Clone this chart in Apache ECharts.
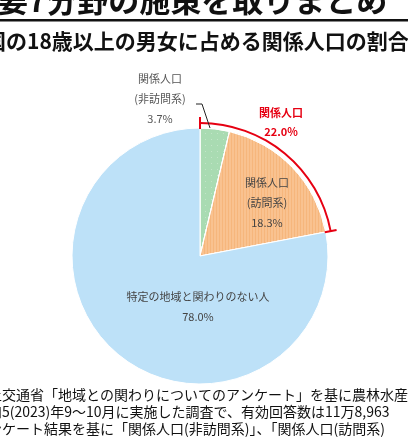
<!DOCTYPE html><html><head><meta charset="utf-8"><script src="https://cdn.jsdelivr.net/npm/echarts@6/dist/echarts.min.js"></script>
<style>html,body{margin:0;background:#fff}#c{width:408px;height:445px}</style></head><body><div id="c"></div><script>
const categories=['関係人口(非訪問系)','関係人口(訪問系)','特定の地域と関わりのない人'];
const values=[3.7,18.3,78.0];
const related=22.0;
const chart=echarts.init(document.getElementById('c'));
const cx=200,cy=256,R=128,RB=133;
const f='"Noto Sans CJK JP"';
function pt(frac,r){const a=Math.PI/2-frac*2*Math.PI;return [cx+r*Math.cos(a),cy-r*Math.sin(a)];}
const endF=related/100;
const t1a=pt(0,RB-6),t1b=pt(0,RB+6),t2a=pt(endF,RB-6),t2b=pt(endF,RB+6);
const colors=['#a9dbb2','#f9c290','#bde1f8'];
const decals=[{symbol:'circle',symbolSize:0.3,color:'rgba(255,255,255,0.6)',dashArrayX:3,dashArrayY:3},
{symbol:'rect',symbolSize:1,color:'rgba(240,160,90,0.35)',dashArrayX:[[1,2]],dashArrayY:[4,0]},null];
chart.setOption({animation:false,
graphic:[
{type:'text',z:100,left:-34,top:-15,style:{text:'主要7分野の施策を取りまとめ',font:'bold 31px '+f,fill:'#111'}},
{type:'rect',z:100,shape:{x:0,y:19,width:408,height:2.5},style:{fill:'#111'}},
{type:'text',z:100,left:-15,top:31,style:{text:'国の18歳以上の男女に占める関係人口の割合',font:'bold 21px '+f,fill:'#111'}},
{type:'text',z:100,x:160,y:69,style:{text:'関係人口\n(非訪問系)\n3.7%',font:'11px '+f,fill:'#555',align:'center',lineHeight:20}},
{type:'polyline',z:100,shape:{points:[[196,104],[202,104],[210,128]]},style:{stroke:'#222',lineWidth:1,fill:null}},
{type:'text',z:100,x:281,y:103,style:{text:'関係人口\n22.0%',font:'bold 11px '+f,fill:'#e60012',align:'center',lineHeight:19}},
{type:'line',z:100,shape:{x1:t1a[0],y1:t1a[1],x2:t1b[0],y2:t1b[1]},style:{stroke:'#e60012',lineWidth:2}},
{type:'line',z:100,shape:{x1:t2a[0],y1:t2a[1],x2:t2b[0],y2:t2b[1]},style:{stroke:'#e60012',lineWidth:2}},
{type:'text',z:100,x:267,y:173,style:{text:'関係人口\n(訪問系)\n18.3%',font:'11px '+f,fill:'#444',align:'center',lineHeight:20}},
{type:'text',z:100,x:198,y:287,style:{text:'特定の地域と関わりのない人\n78.0%',font:'11px '+f,fill:'#444',align:'center',lineHeight:20}},
{type:'text',z:100,x:-26,y:386,style:{text:'国土交通省「地域との関わりについてのアンケート」を基に農林水産省\n令和5(2023)年9〜10月に実施した調査で、有効回答数は11万8,963\nアンケート結果を基に「関係人口(非訪問系)」、「関係人口(訪問系)',font:'14px '+f,fill:'#111',lineHeight:17}}
],
series:[
{type:'pie',center:[cx,cy],radius:[0,R],startAngle:90,clockwise:true,label:{show:false},silent:true,
data:categories.map((n,i)=>{const it={color:colors[i],borderColor:'#fff',borderWidth:1};if(decals[i])it.decal=decals[i];return {name:n,value:values[i],itemStyle:it};})},
{type:'pie',center:[cx,cy],radius:[RB-1,RB+1],startAngle:90,clockwise:true,label:{show:false},silent:true,
data:[{value:related,itemStyle:{color:'#e60012'}},{value:100-related,itemStyle:{color:'rgba(0,0,0,0)'}}]}
]});
</script></body></html>
